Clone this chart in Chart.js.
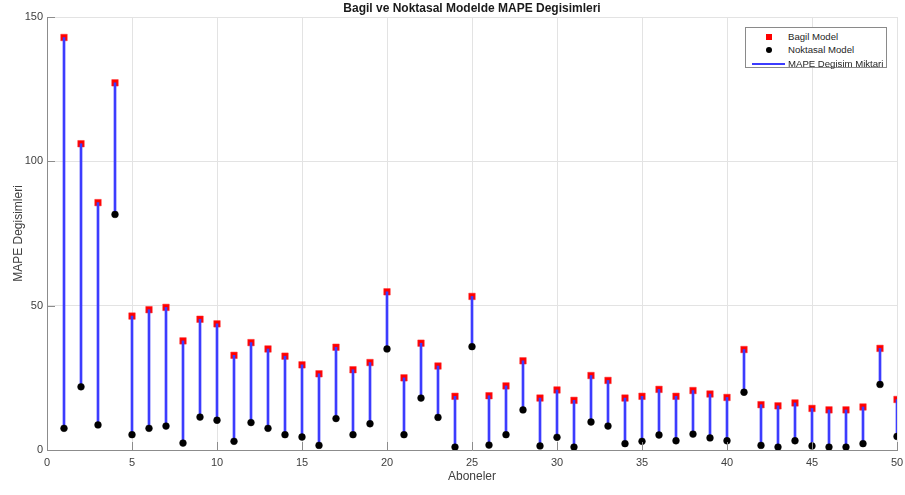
<!DOCTYPE html>
<html>
<head>
<meta charset="utf-8">
<script src="https://cdn.jsdelivr.net/npm/chart.js@4"></script>
<style>
  html, body { margin: 0; padding: 0; background: #fff; }
  #wrap { position: relative; width: 905px; height: 495px; }
  #legend {
    position: absolute; left: 745px; top: 27px; width: 142px; height: 41px;
    border: 1px solid #8a8a8a; background: #fff; box-sizing: border-box;
    font: 9.6px "Liberation Sans", Arial, sans-serif; color: #262626;
  }
  #legend .row { position: absolute; left: 0; width: 100%; height: 12px; line-height: 12px; }
  #legend .key { position: absolute; left: 6px; width: 33px; height: 12px; }
  #legend .txt { position: absolute; left: 42px; white-space: nowrap; }
</style>
</head>
<body>
<div id="wrap">
  <canvas id="chart" width="905" height="495"></canvas>
  <div id="legend"></div>
</div>
<script>
// Subscriber numbers 1..50 and the MAPE of both models
const aboneler = Array.from({ length: 50 }, (_, i) => i + 1);

const bagilModel = [
  142.9, 106.1, 85.7, 127.2, 46.4, 48.6, 49.4, 37.8, 45.3, 43.7,
  32.8, 37.2, 35.0, 32.5, 29.5, 26.4, 35.6, 27.8, 30.3, 54.8,
  25.0, 37.0, 29.1, 18.6, 53.2, 18.8, 22.2, 30.9, 18.0, 20.8,
  17.2, 25.8, 24.1, 18.0, 18.6, 21.0, 18.6, 20.6, 19.4, 18.2,
  34.8, 15.7, 15.3, 16.3, 14.4, 13.9, 13.9, 14.9, 35.2, 17.5
];

const noktasalModel = [
  7.5, 21.9, 8.7, 81.6, 5.3, 7.5, 8.3, 2.4, 11.4, 10.3,
  3.0, 9.5, 7.5, 5.3, 4.5, 1.6, 10.9, 5.3, 9.1, 35.0,
  5.3, 18.0, 11.3, 1.0, 35.8, 1.7, 5.3, 13.9, 1.4, 4.4,
  1.0, 9.7, 8.3, 2.2, 3.0, 5.2, 3.2, 5.5, 4.2, 3.2,
  20.0, 1.6, 1.0, 3.2, 1.4, 1.0, 1.0, 2.2, 22.7, 4.7
];

const xTicks = [0, 5, 10, 15, 20, 25, 30, 35, 40, 45, 50];
const yTicks = [0, 50, 100, 150];

const FONT = '"Liberation Sans", Arial, sans-serif';
const AXIS_COLOR = '#8c8c8c';
const GRID_COLOR = '#e3e3e3';
const TEXT_COLOR = '#404040';

// MATLAB-style ticks pointing into the plot area
const inwardTicks = {
  id: 'inwardTicks',
  afterDraw(chart) {
    const { ctx, chartArea, scales } = chart;
    const len = 8;
    ctx.save();
    ctx.strokeStyle = AXIS_COLOR;
    ctx.lineWidth = 1;
    ctx.beginPath();
    xTicks.forEach(v => {
      const px = Math.round(scales.x.getPixelForValue(v)) + 0.5;
      ctx.moveTo(px, chartArea.bottom);
      ctx.lineTo(px, chartArea.bottom - len);
    });
    yTicks.forEach(v => {
      const py = Math.round(scales.y.getPixelForValue(v)) + 0.5;
      ctx.moveTo(chartArea.left, py);
      ctx.lineTo(chartArea.left + len, py);
    });
    ctx.stroke();
    ctx.restore();
  }
};

const ctx = document.getElementById('chart').getContext('2d');

const chart = new Chart(ctx, {
  type: 'scatter',
  data: {
    datasets: [
      {
        label: 'Bagil Model',
        data: aboneler.map((a, i) => ({ x: a, y: bagilModel[i] })),
        pointStyle: 'rect',
        pointRadius: 4.6,
        backgroundColor: '#ff0000',
        borderColor: '#ff3030',
        borderWidth: 0.5,
        order: 3
      },
      {
        label: 'Noktasal Model',
        data: aboneler.map((a, i) => ({ x: a, y: noktasalModel[i] })),
        pointStyle: 'circle',
        pointRadius: 3.4,
        backgroundColor: '#000000',
        borderColor: '#000000',
        borderWidth: 0.5,
        order: 1
      },
      {
        type: 'bar',
        label: 'MAPE Degisim Miktari',
        data: aboneler.map((a, i) => ({ x: a, y: [noktasalModel[i], bagilModel[i]] })),
        backgroundColor: '#3c3cff',
        borderWidth: 0,
        barThickness: 2,
        order: 2
      }
    ]
  },
  options: {
    responsive: false,
    animation: false,
    layout: { padding: { left: 0, right: 8, top: 0, bottom: 0 } },
    plugins: {
      legend: { display: false },
      tooltip: { enabled: false },
      title: {
        display: true,
        fullSize: false,
        text: 'Bagil ve Noktasal Modelde MAPE Degisimleri',
        color: '#1a1a1a',
        font: { family: FONT, size: 12, weight: 'bold' },
        padding: { top: 1, bottom: 1.6 }
      }
    },
    scales: {
      x: {
        type: 'linear',
        offset: false,
        min: 0,
        max: 50,
        afterBuildTicks: scale => { scale.ticks = xTicks.map(v => ({ value: v })); },
        afterFit: scale => {
          scale.height = 45;
          scale.paddingLeft = 0;
          scale.paddingRight = 0;
        },
        grid: { color: GRID_COLOR, drawTicks: false, offset: false },
        border: { color: AXIS_COLOR, width: 1 },
        ticks: { color: TEXT_COLOR, font: { family: FONT, size: 11 }, padding: 6, maxRotation: 0 },
        title: {
          display: true,
          text: 'Aboneler',
          color: TEXT_COLOR,
          font: { family: FONT, size: 12 },
          padding: { top: 11, bottom: 11 }
        }
      },
      y: {
        type: 'linear',
        min: 0,
        max: 150,
        afterBuildTicks: scale => { scale.ticks = yTicks.map(v => ({ value: v })); },
        afterFit: scale => { scale.width = 47; },
        grid: { color: GRID_COLOR, drawTicks: false },
        border: { color: AXIS_COLOR, width: 1 },
        ticks: { color: TEXT_COLOR, font: { family: FONT, size: 11 }, padding: 4 },
        title: {
          display: true,
          text: 'MAPE Degisimleri',
          color: TEXT_COLOR,
          font: { family: FONT, size: 12 },
          padding: { top: 11, bottom: 11 }
        }
      }
    }
  },
  plugins: [inwardTicks]
});

// Legend box drawn from the dataset styles, in plotting order
function buildLegend(chart) {
  const box = document.getElementById('legend');
  [0, 1, 2].forEach((idx, r) => {
    const ds = chart.data.datasets[idx];
    const row = document.createElement('div');
    row.className = 'row';
    row.style.top = (3 + r * 13.3) + 'px';
    const key = document.createElement('div');
    key.className = 'key';
    if (ds.type === 'bar') {
      key.innerHTML = '<div style="position:absolute;left:0;top:5px;width:33px;height:2px;background:' + ds.backgroundColor + '"></div>';
    } else if (ds.pointStyle === 'rect') {
      key.innerHTML = '<div style="position:absolute;left:14px;top:3px;width:6px;height:6px;background:' + ds.backgroundColor + '"></div>';
    } else {
      key.innerHTML = '<div style="position:absolute;left:14px;top:3px;width:6px;height:6px;border-radius:50%;background:' + ds.backgroundColor + '"></div>';
    }
    const txt = document.createElement('div');
    txt.className = 'txt';
    txt.textContent = ds.label;
    row.appendChild(key);
    row.appendChild(txt);
    box.appendChild(row);
  });
}

buildLegend(chart);
</script>
</body>
</html>
